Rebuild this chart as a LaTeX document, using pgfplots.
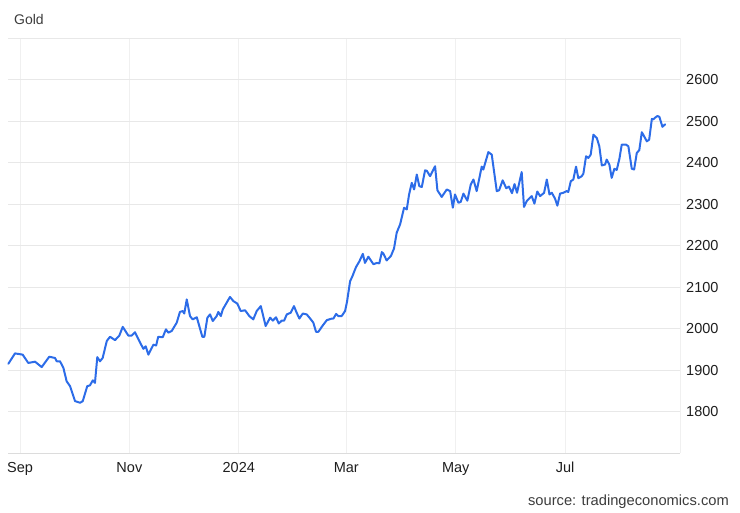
\documentclass[border=0pt]{standalone}
\usepackage{pgfplots}
\pgfplotsset{compat=1.18}
\usepackage{fontspec}
\setmainfont{Liberation Sans}
\definecolor{goldline}{RGB}{44,108,232}
\definecolor{gridc}{RGB}{232,232,232}
\definecolor{vgridc}{RGB}{240,240,240}
\definecolor{axc}{RGB}{220,220,220}
\definecolor{txt}{RGB}{30,30,30}
\definecolor{ttl}{RGB}{60,60,60}
\begin{document}
\begin{tikzpicture}
\useasboundingbox (0,0) rectangle (740bp,513bp);
\begin{axis}[
  at={(8bp,60bp)}, anchor=south west,
  scale only axis, width=672bp, height=415bp,
  xmin=-6.7, xmax=368.1, ymin=1700, ymax=2700,
  axis x line*=bottom, axis y line*=right,
  x axis line style={draw=axc, line width=0.8bp, -},
  y axis line style={draw=vgridc, line width=0.8bp, -},
  major tick length=0pt,
  xtick={0,61,122,182,243,304},
  xticklabels={Sep,Nov,2024,Mar,May,Jul},
  ytick={1800,1900,2000,2100,2200,2300,2400,2500,2600,2700},
  yticklabels={1800,1900,2000,2100,2200,2300,2400,2500,2600,{}},
  xmajorgrids, ymajorgrids,
  x grid style={draw=vgridc, line width=0.8bp},
  y grid style={draw=gridc, line width=0.8bp},
  xticklabel style={font=\fontsize{14.5bp}{17bp}\selectfont, text=txt, anchor=base, inner sep=0pt, yshift=-20bp},
  yticklabel style={font=\fontsize{14.5bp}{17bp}\selectfont, text=txt, anchor=base west, inner sep=0pt, xshift=6bp, yshift=-5.5bp},
  clip=false,
]
\addplot[goldline, line width=2bp, line join=round, line cap=round, mark=none] coordinates {
(-6.5,1915) (-2.8,1940) (1.5,1937) (4.6,1917) (8.4,1920) (12.1,1907) (16.3,1932) (19.5,1929) (20.5,1921) (22.3,1921) (24.2,1905) (26.0,1873) (27.9,1861) (30.7,1825) (33.5,1821) (35.0,1825) (37.5,1861) (39.0,1863) (40.6,1875) (41.8,1869) (43.1,1931) (44.6,1921) (46.1,1929) (48.4,1970) (50.2,1980) (53.0,1972) (55.4,1983) (57.3,2004) (60.4,1983) (62.3,1983) (64.1,1991) (66.5,1970) (68.8,1951) (70.1,1957) (71.6,1937) (74.4,1961) (75.9,1959) (77.1,1980) (79.6,1979) (81.4,1998) (82.7,1990) (84.6,1994) (87.4,2014) (89.2,2040) (90.8,2042) (91.6,2036) (93.0,2070) (94.8,2030) (96.3,2022) (98.6,2027) (101.7,1980) (102.8,1980) (104.5,2026) (106.0,2034) (107.5,2018) (109.7,2030) (110.6,2040) (112.0,2030) (113.1,2046) (117.1,2076) (119.0,2066) (121.2,2060) (123.1,2042) (125.5,2044) (127.9,2030) (128.7,2027) (130.1,2022) (132.0,2042) (134.3,2054) (137.0,2006) (139.5,2026) (141.0,2019) (142.8,2027) (144.3,2012) (146.0,2019) (147.3,2019) (148.8,2034) (151.0,2038) (152.8,2054) (154.3,2038) (155.8,2024) (157.7,2036) (159.9,2034) (162.2,2022) (163.6,2014) (165.1,1992) (166.4,1992) (168.8,2007) (171.1,2020) (173.9,2024) (174.8,2024) (176.3,2035) (177.5,2030) (179.4,2030) (181.3,2042) (182.4,2065) (184.1,2114) (185.2,2124) (187.4,2148) (189.3,2162) (191.2,2180) (192.4,2158) (194.3,2173) (197.1,2155) (199.1,2158) (200.4,2157) (201.8,2184) (202.6,2181) (204.5,2164) (206.9,2175) (208.6,2193) (210.1,2231) (212.0,2251) (214.2,2291) (215.7,2287) (217.0,2323) (218.5,2351) (219.8,2335) (221.3,2371) (222.7,2343) (224.1,2341) (225.9,2381) (226.9,2380) (228.7,2367) (231.5,2391) (232.8,2333) (235.2,2317) (238.0,2335) (239.9,2331) (241.4,2291) (242.6,2323) (244.5,2303) (245.8,2305) (247.3,2325) (249.5,2308) (251.4,2347) (252.9,2359) (254.7,2331) (257.5,2390) (258.4,2383) (261.2,2425) (263.1,2419) (265.9,2331) (267.2,2333) (269.2,2357) (271.2,2338) (272.7,2342) (274.4,2326) (275.8,2348) (277.2,2327) (279.8,2377) (281.1,2293) (282.6,2307) (285.4,2319) (286.9,2301) (288.5,2330) (290.1,2319) (292.3,2327) (293.8,2359) (295.3,2323) (296.6,2327) (298.4,2313) (299.7,2296) (301.2,2325) (303.0,2327) (304.9,2331) (305.8,2329) (307.2,2355) (308.6,2359) (310.1,2390) (311.4,2362) (313.3,2367) (314.2,2373) (315.7,2415) (317.0,2411) (318.3,2419) (319.8,2467) (321.7,2459) (323.1,2439) (324.5,2393) (326.3,2395) (327.2,2407) (328.7,2395) (330.0,2363) (331.5,2385) (332.8,2382) (334.3,2409) (335.6,2443) (338.0,2443) (339.3,2439) (341.2,2385) (342.5,2383) (344.0,2423) (345.4,2430) (346.8,2473) (348.1,2463) (349.6,2451) (350.9,2455) (352.4,2505) (353.3,2504) (354.2,2508) (355.5,2512) (356.6,2510) (358.3,2486) (359.8,2492)
};
\end{axis}
\node[anchor=base west, inner sep=0pt, text=ttl, font=\fontsize{14bp}{16bp}\selectfont] at (14bp,488bp) {Gold};
\node[anchor=base east, inner sep=0pt, text=ttl, font=\fontsize{14.7bp}{17bp}\selectfont] at (729bp,8bp) {source: tradingeconomics.com};
\end{tikzpicture}
\end{document}
